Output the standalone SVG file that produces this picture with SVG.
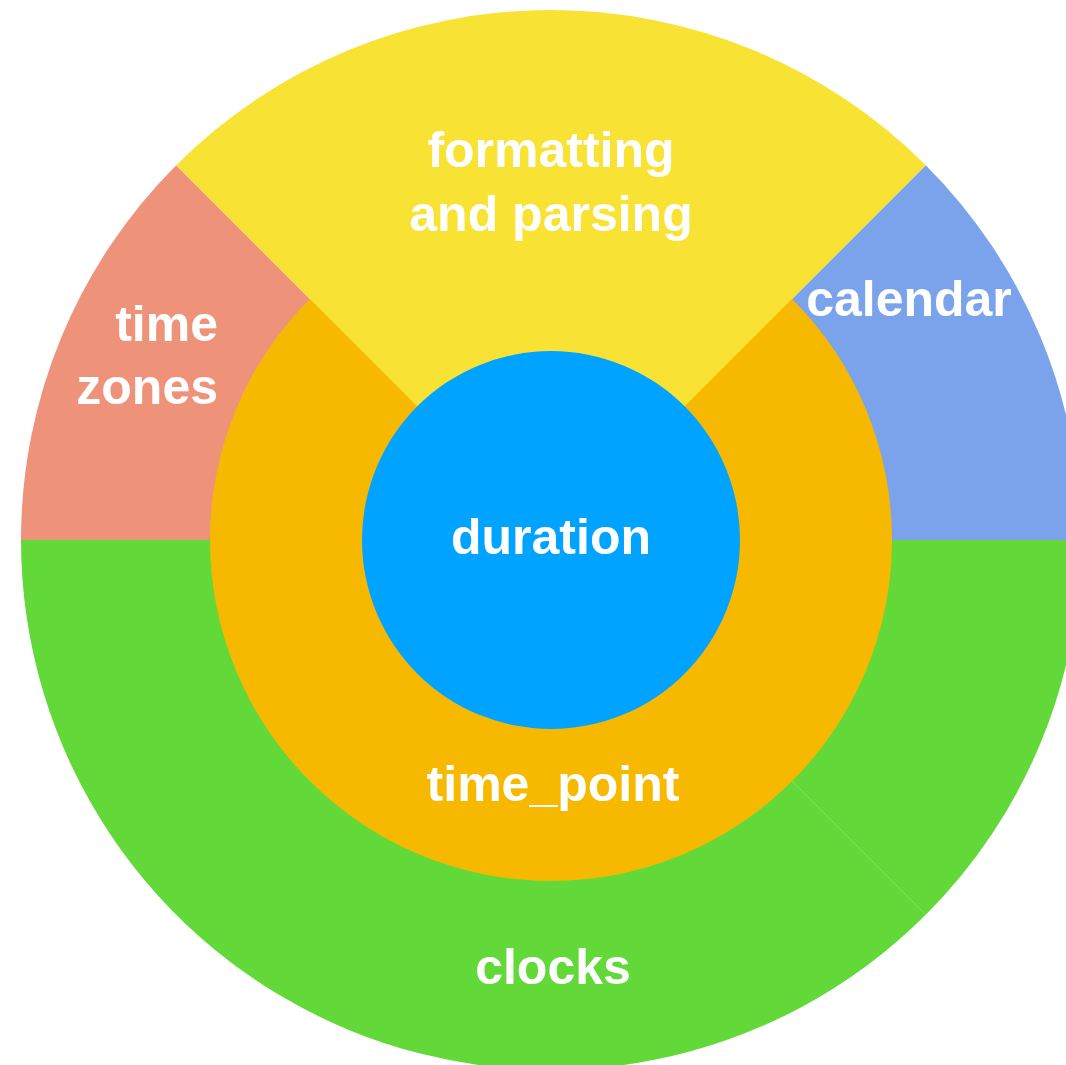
<svg xmlns="http://www.w3.org/2000/svg" width="1066" height="1065" viewBox="0 0 1066 1065">
<style>
.lbl{font-family:"Liberation Sans",Arial,sans-serif;font-weight:bold;font-size:50px;fill:#ffffff;text-anchor:middle}
</style>
<rect width="1066" height="1065" fill="#ffffff"/>
<g id="time_zones">
<path d="M551,540 L21,540 A530,530 0 0 1 176.23,165.23 Z" fill="#EE937A"/>
</g>
<g id="calendar">
<path d="M551,540 L925.77,165.23 A530,530 0 0 1 1081,540 Z" fill="#7BA3EC"/>
</g>
<g id="clocks">
<path d="M551,540 L1081,540 A530,530 0 0 1 925.77,914.77 Z" fill="#63D939"/>
<path d="M551,540 L925.77,914.77 A530,530 0 0 1 21,540 Z" fill="#63D939"/>
</g>
<g id="time_point">
<circle cx="551" cy="540" r="341" fill="#F6B900"/>
</g>
<g id="formatting_and_parsing">
<path d="M551,540 L176.23,165.23 A530,530 0 0 1 925.77,165.23 Z" fill="#F8E234"/>
</g>
<g id="duration">
<circle cx="551" cy="540" r="189" fill="#00A3FF"/>
</g>
<g id="connectors"></g>
<g id="labels">
<text class="lbl" x="551" y="167">formatting</text>
<text class="lbl" x="551" y="231">and parsing</text>
<text class="lbl" x="218" y="341" style="text-anchor:end">time</text>
<text class="lbl" x="218" y="404" style="text-anchor:end">zones</text>
<text class="lbl" x="909" y="316">calendar</text>
<text class="lbl" x="551" y="554">duration</text>
<text class="lbl" x="553" y="801">time_point</text>
<text class="lbl" x="553" y="984">clocks</text>
</g>
</svg>
